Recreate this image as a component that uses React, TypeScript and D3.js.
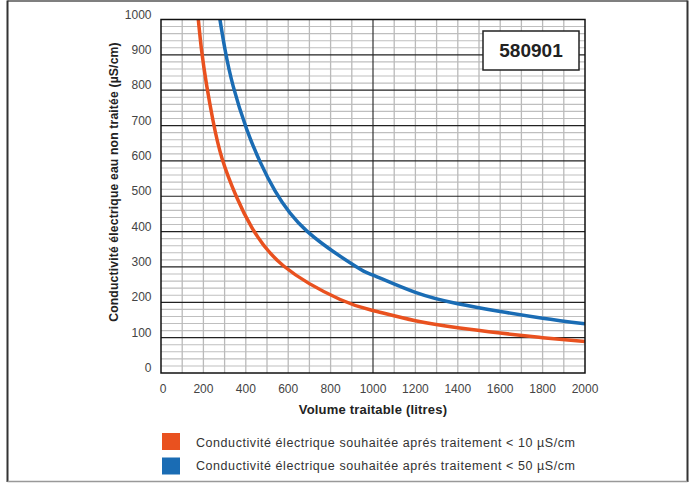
import React from "react";
import * as d3 from "d3";

// Data
const redX = [176, 192, 215, 245, 288, 357, 428, 580, 845, 1000, 1200, 1400, 1600, 1800, 2000];
const redY = [1000, 910, 815, 715, 607, 497, 412, 302, 208, 177, 148, 128, 113, 100, 89];
const blueX = [278, 302, 341, 404, 467, 538, 687, 923, 1000, 1200, 1400, 1600, 1800, 2000];
const blueY = [1000, 915, 810, 690, 598, 515, 402, 300, 277, 228, 196, 174, 155, 139];
const xTicks = [0, 200, 400, 600, 800, 1000, 1200, 1400, 1600, 1800, 2000];
const yTicks = [0, 100, 200, 300, 400, 500, 600, 700, 800, 900, 1000];
const legendLabels = [
  "Conductivité électrique souhaitée aprés traitement < 10 µS/cm",
  "Conductivité électrique souhaitée aprés traitement < 50 µS/cm",
];
const seriesColors = ["#e9511f", "#1a6cb4"];
const xTitle = "Volume traitable (litres)";
const yTitle = "Conductivité électrique eau non traitée (µS/cm)";
const badge = "580901";

const W = 691;
const H = 483;
const FONT = "'Liberation Sans', Arial, Helvetica, sans-serif";

export default function App() {
  const x = d3.scaleLinear().domain([0, 2000]).range([161, 585]);
  const y = d3.scaleLinear().domain([0, 1000]).range([373, 19.5]);

  const line = d3
    .line<[number, number]>()
    .x((d) => x(d[0]))
    .y((d) => y(d[1]))
    .curve(d3.curveNatural);

  const redData: [number, number][] = redX.map((v, i) => [v, redY[i]]);
  const blueData: [number, number][] = blueX.map((v, i) => [v, blueY[i]]);

  const minorY = d3.range(0, 1001, 20).filter((v) => v % 100 !== 0);
  const minorX = d3.range(100, 2000, 100).filter((v) => v !== 1000);

  return (
    <svg
      width={W}
      height={H}
      style={{ position: "absolute", left: 0, top: 0, background: "#fff" }}
      fontFamily={FONT}
    >
      <defs>
        <clipPath id="plotclip">
          <rect x={x(0)} y={y(1000)} width={x(2000) - x(0)} height={y(0) - y(1000)} />
        </clipPath>
      </defs>
      {/* outer frame */}
      <line x1={7.5} y1={1} x2={687.5} y2={1} stroke="#555" strokeWidth={1.5} />
      <line x1={7.5} y1={0.5} x2={7.5} y2={482} stroke="#333" strokeWidth={2} />
      <line x1={687.5} y1={0.5} x2={687.5} y2={482} stroke="#333" strokeWidth={2} />
      <line x1={7.5} y1={481.5} x2={687.5} y2={481.5} stroke="#999" strokeWidth={1.5} />

      {/* minor horizontal grid */}
      {minorY.map((v) => (
        <line key={"my" + v} x1={x(0)} x2={x(2000)} y1={y(v)} y2={y(v)} stroke="#bfbfbf" strokeWidth={1.1} />
      ))}
      {/* vertical grid */}
      {minorX.map((v) => (
        <line key={"vx" + v} x1={x(v)} x2={x(v)} y1={y(0)} y2={y(1000)} stroke="#bababa" strokeWidth={1.3} />
      ))}
      <line x1={x(1000)} x2={x(1000)} y1={y(0)} y2={y(1000)} stroke="#333" strokeWidth={1.2} />
      {/* major horizontal grid */}
      {yTicks.slice(1, -1).map((v) => (
        <line key={"My" + v} x1={x(0)} x2={x(2000)} y1={y(v)} y2={y(v)} stroke="#222" strokeWidth={1.2} />
      ))}

      {/* curves */}
      <g clipPath="url(#plotclip)">
        <path d={line(redData) || ""} fill="none" stroke={seriesColors[0]} strokeWidth={3.5} />
        <path d={line(blueData) || ""} fill="none" stroke={seriesColors[1]} strokeWidth={3.5} />
      </g>

      {/* plot border */}
      <rect x={x(0)} y={y(1000)} width={x(2000) - x(0)} height={y(0) - y(1000)} fill="none" stroke="#111" strokeWidth={1.5} />

      {/* badge */}
      <rect x={483} y={31} width={96} height={39} fill="#fff" stroke="#222" strokeWidth={1.5} />
      <text x={531} y={57} textAnchor="middle" fontSize={19} fontWeight="bold" fill="#222">
        {badge}
      </text>

      {/* y tick labels */}
      {yTicks.map((v) => (
        <text key={"yt" + v} x={151.5} y={y(v) - 1} textAnchor="end" fontSize={12} fill="#444">
          {v}
        </text>
      ))}
      {/* x tick labels */}
      {xTicks.map((v) => (
        <text key={"xt" + v} x={x(v) + (v === 0 ? 2 : 0)} y={393} textAnchor="middle" fontSize={12} fill="#444">
          {v}
        </text>
      ))}

      {/* axis titles */}
      <text x={373} y={414} textAnchor="middle" fontSize={13} fontWeight="bold" fill="#222" letterSpacing={0.2}>
        {xTitle}
      </text>
      <text
        transform={`translate(118,182) rotate(-90)`}
        textAnchor="middle"
        fontSize={12.2}
        fontWeight="bold"
        fill="#222"
        letterSpacing={0.15}
      >
        {yTitle}
      </text>

      {/* legend */}
      {legendLabels.map((t, i) => (
        <g key={"lg" + i}>
          <rect x={162} y={433 + i * 24.5} width={18} height={17} fill={seriesColors[i]} />
          <text
            x={196}
            y={446.5 + i * 23}
            fontSize={12.5}
            fill="#333"
            textLength={379}
            lengthAdjust="spacing"
          >
            {t}
          </text>
        </g>
      ))}
    </svg>
  );
}
